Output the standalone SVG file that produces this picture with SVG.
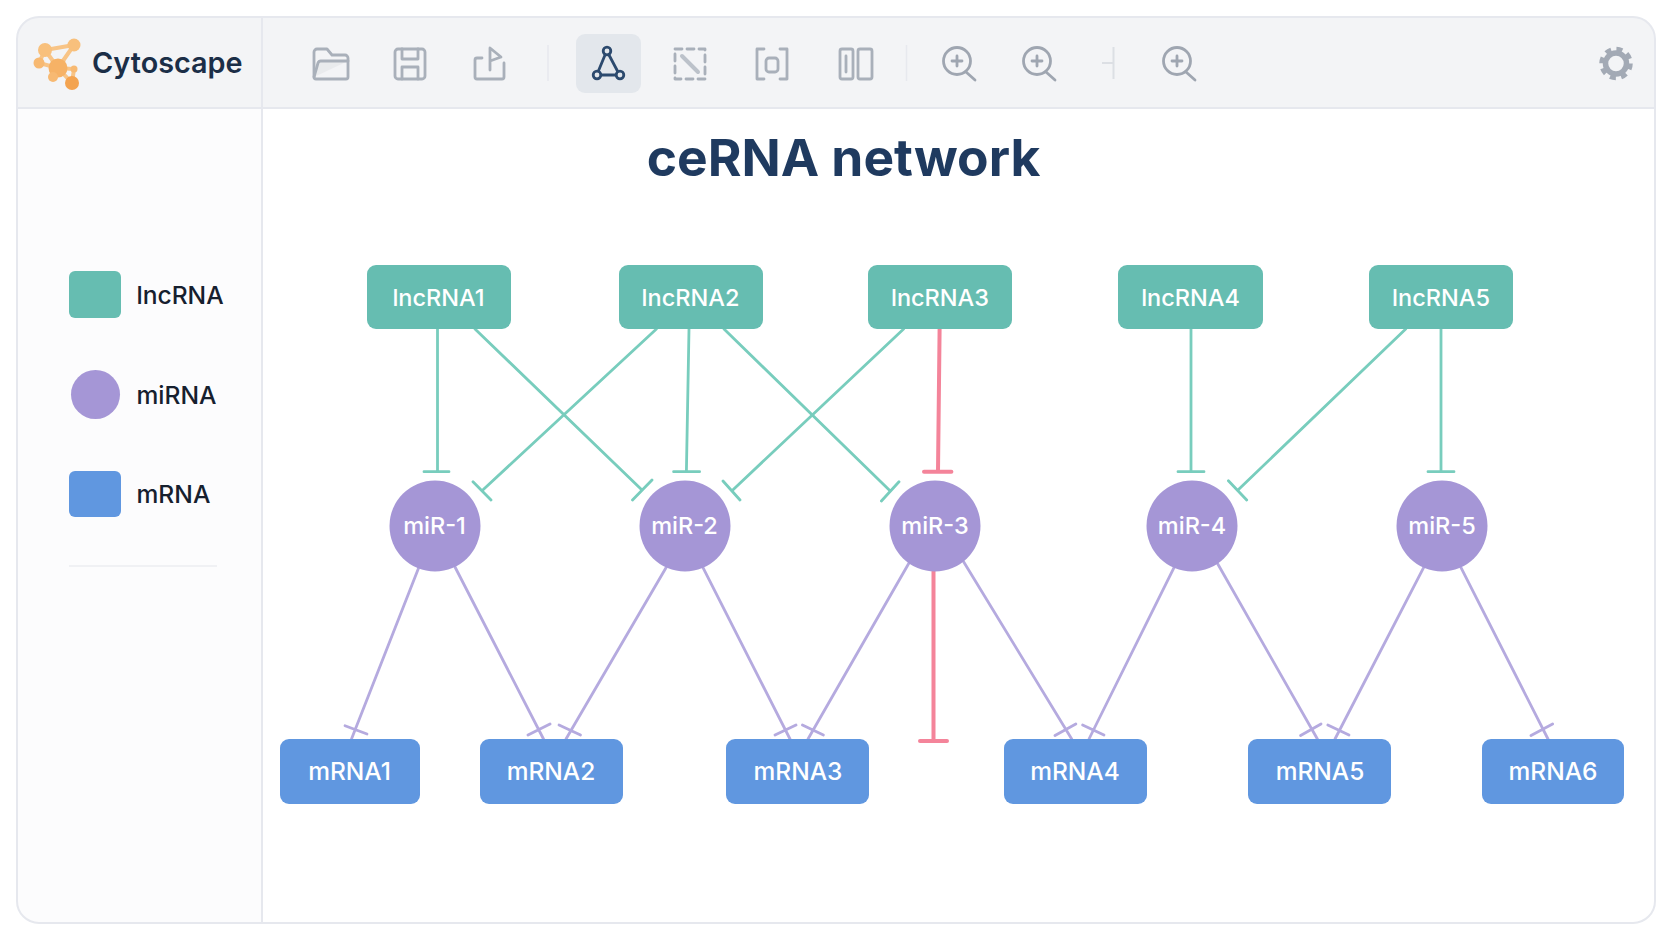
<svg xmlns="http://www.w3.org/2000/svg" width="1672" height="941" viewBox="0 0 1672 941">
<style>
text{font-family:Inter,"Liberation Sans",sans-serif}
.n{font-size:23.500px;font-weight:500;fill:#fff;text-anchor:middle}
.nr{font-size:24.500px}
.leg{font-size:24.600px;font-weight:500;fill:#16202e}
.l{fill:#66bdb1}.m{fill:#a596d6}.r{fill:#6097e0}
.e{fill:none;stroke-width:2.800;stroke-linecap:round}
.t{stroke:#78cdbd}.p{stroke:#b5aadf}.x{stroke:#f4849a;stroke-width:4}
.i{fill:none;stroke:#a9b0ba;stroke-width:2.800;stroke-linejoin:round;stroke-linecap:round}
.z{fill:none;stroke:#9fa6b1;stroke-width:2.800;stroke-linecap:round}
.sep{stroke:#e7e9ee;stroke-width:1.500}
</style>
<rect width="1672" height="941" fill="#fff"/>
<g id="window">
<rect x="17" y="17" width="1638" height="906" rx="22" fill="#fff"/>
<path d="M17 108V39a22 22 0 0 1 22-22H1633a22 22 0 0 1 22 22V108Z" fill="#f3f4f6"/>
<path d="M17 108H262V923H39a22 22 0 0 1-22-22Z" fill="#fcfcfd"/>
<rect x="17" y="17" width="1638" height="906" rx="22" fill="none" stroke="#e6e8ee" stroke-width="2"/>
<path d="M17 108H1655M262 18V922" stroke="#e6e8ee" stroke-width="2" fill="none"/>
</g>
<g id="logo">
<path d="M74 45L45 50L39 63L58 68L53 77M45 50L58 68L72 83M74 45L58 68M58 68L74 69L72 83" fill="none" stroke="#f8c486" stroke-width="4"/>
<circle cx="74" cy="45" r="6.500" fill="#f8c07c"/><circle cx="45" cy="50" r="7" fill="#f8c07c"/><circle cx="39" cy="63" r="5.500" fill="#f7b972"/><circle cx="58" cy="68" r="9.500" fill="#f6b266"/><circle cx="53" cy="77" r="5" fill="#f7b972"/><circle cx="74" cy="69" r="3.500" fill="#f7b972"/><circle cx="72" cy="83" r="7" fill="#f3a350"/>
</g>
<text id="app-name" x="92" y="73" font-size="28.800" font-weight="600" fill="#1b2e47">Cytoscape</text>
<g id="toolbar">
<g id="icon-open" class="i"><path d="M314 77V52a3 3 0 0 1 3-3h10l5 6h13a3 3 0 0 1 3 3v19a2 2 0 0 1-2 2H316a2 2 0 0 1-2-2Z"/><path d="M314 77l4-14a3 3 0 0 1 3-2h27" fill="#e2e4e8" fill-opacity=".6"/></g>
<g id="icon-save" class="i"><rect x="395" y="49" width="30" height="30" rx="3"/><path d="M402 49v10h16V49M402 79V67h16v12"/></g>
<g id="icon-export" class="i"><path d="M482 58h-5a2 2 0 0 0-2 2v17a2 2 0 0 0 2 2h25a2 2 0 0 0 2-2V63"/><path d="M490 70V48l11 9-11 4"/></g>
<path class="sep" d="M548 45V81"/>
<rect x="576" y="34" width="65" height="59" rx="9" fill="#e3e7ec"/>
<g id="icon-layout" fill="none" stroke="#2c4a6e" stroke-width="2.800"><path d="M605 55L598 72M609 55L618 72M600 75H617"/><circle cx="607" cy="51" r="3.800"/><circle cx="597" cy="75" r="3.800"/><circle cx="620" cy="75" r="3.800"/></g>
<g id="icon-select" class="i"><rect x="675" y="49" width="30" height="30" stroke-dasharray="7 5"/><path d="M682 56L698 72" stroke-width="4" stroke="#bcc2ca"/></g>
<g id="icon-fit" class="i"><path d="M764 49h-7v30h7M780 49h7v30h-7"/><rect x="766" y="58" width="12" height="14" rx="3"/></g>
<g id="icon-columns" class="i"><rect x="840" y="49" width="13" height="30" rx="2"/><rect x="858" y="49" width="14" height="30" rx="2"/><path d="M846 56V72"/></g>
<path class="sep" d="M906.500 45V81"/>
<g id="icon-zoom1" class="z"><circle cx="957" cy="61" r="13.500"/><path d="M966 72L975 80M952 61H962M957 56V66"/></g>
<g id="icon-zoom2" class="z"><circle cx="1037" cy="61" r="13.500"/><path d="M1046 72L1055 80M1032 61H1042M1037 56V66"/></g>
<path id="icon-split" d="M1113.500 47V79M1102 63H1113" stroke="#dcdfe4" stroke-width="2" fill="none"/>
<g id="icon-zoom3" class="z"><circle cx="1177" cy="61" r="13.500"/><path d="M1186 72L1195 80M1172 61H1182M1177 56V66"/></g>
<g id="icon-settings" fill="none" stroke="#a3aab5"><circle cx="1616" cy="63.500" r="10.500" stroke-width="5.500"/><circle cx="1616" cy="63.500" r="14.500" stroke-width="4.500" stroke-dasharray="6 5.390"/></g>
</g>
<text id="title" x="843.500" y="176" font-size="51.500" font-weight="700" fill="#1f3a5f" text-anchor="middle">ceRNA network</text>
<g id="legend">
<g id="legend-lncrna"><rect class="l" x="69" y="271" width="52" height="47" rx="6"/><text class="leg" x="136.500" y="303.500">lncRNA</text></g>
<g id="legend-mirna"><circle class="m" cx="95.500" cy="394.500" r="24.500"/><text class="leg" x="136.500" y="403.500">miRNA</text></g>
<g id="legend-mrna"><rect class="r" x="69" y="471" width="52" height="46" rx="6"/><text class="leg" x="136.500" y="502.500">mRNA</text></g>
<path d="M69 566H217" stroke="#f0f1f4" stroke-width="2"/>
</g>
<g id="connectors">
<path class="e t" d="M437.500 329V471.700M424 471.700H449"/>
<path class="e t" d="M475 329L642 490M632.500 500L652 480"/>
<path class="e t" d="M656.400 329L482 490.700M473 481.700L491 500"/>
<path class="e t" d="M689 329L686.400 471.700M673.600 471.700H699.600"/>
<path class="e t" d="M724 329L890 490.700M881.400 501L899 481.700"/>
<path class="e t" d="M903.600 329L732 490.700M723 481L740 500"/>
<path class="e x" d="M939.600 329L938 471.700M924 471.700H951.400"/>
<path class="e t" d="M1191 329V471.700M1178 471.700H1204"/>
<path class="e t" d="M1405.700 329L1238 490M1228.400 480.700L1246.700 500"/>
<path class="e t" d="M1441 329V471.700M1428 471.700H1454"/>
<path class="e p" d="M418.600 568L351.500 739M345 725.700L367 734"/>
<path class="e p" d="M455 567L543.500 739M528 735L550 724"/>
<path class="e p" d="M666 567.700L566 739M559 725L580.500 735"/>
<path class="e p" d="M703 567.700L790 739M775 735L796 725"/>
<path class="e p" d="M909 563L808 739M802.400 725L823.400 735"/>
<path class="e p" d="M963.600 561.700L1071.700 739M1055 735.500L1075.800 724"/>
<path class="e p" d="M1174 567.700L1089 739M1082.600 725L1104 735"/>
<path class="e p" d="M1217.800 564L1317.400 739M1300.600 735.500L1321 724"/>
<path class="e p" d="M1423.600 567.700L1335 739M1327.800 725L1349 735"/>
<path class="e p" d="M1461 567.700L1548 739M1531 735.500L1552.600 724"/>
<path class="e x" d="M933.500 571V741M920 741H947"/>
</g>
<g id="lncRNA1"><rect class="l" x="367" y="265" width="144" height="64" rx="9"/><text class="n" x="438.500" y="305.500">lncRNA1</text></g>
<g id="lncRNA2"><rect class="l" x="619" y="265" width="144" height="64" rx="9"/><text class="n" x="690.500" y="305.500">lncRNA2</text></g>
<g id="lncRNA3"><rect class="l" x="868" y="265" width="144" height="64" rx="9"/><text class="n" x="940" y="305.500">lncRNA3</text></g>
<g id="lncRNA4"><rect class="l" x="1118" y="265" width="145" height="64" rx="9"/><text class="n" x="1190.500" y="305.500">lncRNA4</text></g>
<g id="lncRNA5"><rect class="l" x="1369" y="265" width="144" height="64" rx="9"/><text class="n" x="1441" y="305.500">lncRNA5</text></g>
<g id="miR-1"><circle class="m" cx="435" cy="526" r="45.500"/><text class="n" x="434.500" y="534">miR-1</text></g>
<g id="miR-2"><circle class="m" cx="685" cy="526" r="45.500"/><text class="n" x="684.500" y="534">miR-2</text></g>
<g id="miR-3"><circle class="m" cx="935" cy="526" r="45.500"/><text class="n" x="935" y="534">miR-3</text></g>
<g id="miR-4"><circle class="m" cx="1192" cy="526" r="45.500"/><text class="n" x="1192" y="534">miR-4</text></g>
<g id="miR-5"><circle class="m" cx="1442" cy="526" r="45.500"/><text class="n" x="1442" y="534">miR-5</text></g>
<g id="mRNA1"><rect class="r" x="280" y="739" width="140" height="65" rx="9"/><text class="n nr" x="349.500" y="779.500">mRNA1</text></g>
<g id="mRNA2"><rect class="r" x="480" y="739" width="143" height="65" rx="9"/><text class="n nr" x="551" y="779.500">mRNA2</text></g>
<g id="mRNA3"><rect class="r" x="726" y="739" width="143" height="65" rx="9"/><text class="n nr" x="798" y="779.500">mRNA3</text></g>
<g id="mRNA4"><rect class="r" x="1004" y="739" width="143" height="65" rx="9"/><text class="n nr" x="1075" y="779.500">mRNA4</text></g>
<g id="mRNA5"><rect class="r" x="1248" y="739" width="143" height="65" rx="9"/><text class="n nr" x="1320" y="779.500">mRNA5</text></g>
<g id="mRNA6"><rect class="r" x="1482" y="739" width="142" height="65" rx="9"/><text class="n nr" x="1553" y="779.500">mRNA6</text></g>
</svg>
